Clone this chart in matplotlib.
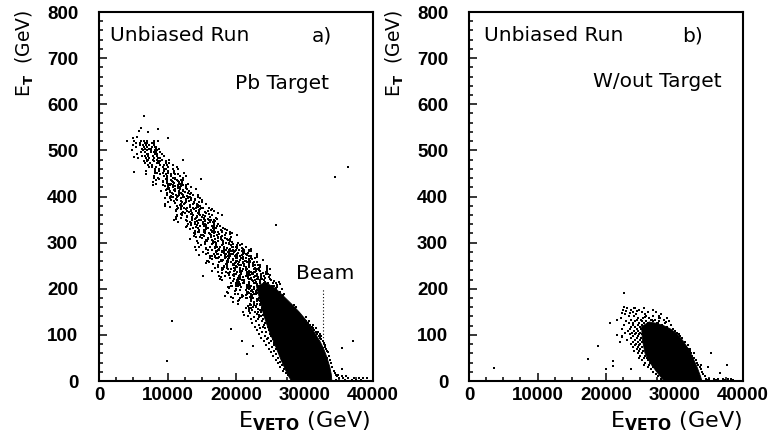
import matplotlib
matplotlib.use("Agg")
import matplotlib.pyplot as plt
from matplotlib.ticker import MultipleLocator
from matplotlib.font_manager import FontProperties

# ---------------- data ----------------
# Panel a (Pb target): rows of (E_T, [E_VETO values of the dots on that row])
band_a_rows = [
    (520, [5140, 6160, 6540, 6980, 8020, 8640]),
    (516, [5380, 6000, 6720, 6940, 7760, 8080]),
    (512, [4960, 5920, 6440, 6900, 7340, 8020]),
    (508, [5340, 6560, 6960, 7680, 8140, 8380]),
    (504, [6240, 6740, 7300, 7580, 8280, 8820]),
    (500, [4800, 6440, 7060, 7620, 8120, 8440]),
    (496, [6160, 6680, 7520, 7980, 8280, 8960]),
    (492, [5560, 7000, 7220, 8120, 8420, 9240]),
    (488, [6340, 6660, 7180, 7940, 8480, 9520]),
    (484, [5700, 6820, 7260, 7960, 8620, 8920]),
    (480, [6960, 7180, 7880, 8420, 9160, 10240]),
    (476, [6580, 7020, 8020, 8660, 8940, 9760]),
    (472, [6680, 7490, 8430, 8710, 9780, 10190]),
    (468, [7120, 7790, 8890, 9480, 9870, 10760]),
    (464, [7260, 7680, 8350, 9340, 10040, 11400]),
    (460, [8110, 8760, 9490, 9850, 10760, 11470]),
    (456, [6910, 8160, 8830, 9430, 10000, 10890]),
    (452, [8150, 8430, 9340, 10050, 11010, 12410]),
    (448, [6810, 8940, 9750, 10480, 11130, 11540]),
    (444, [8100, 9430, 9920, 10490, 11850, 12650]),
    (440, [8090, 8670, 9970, 10800, 11160, 12230]),
    (438, [9800, 11100, 8800]),
    (436, [8370, 9960, 10480, 11410, 12010, 12320]),
    (434, [9300, 10600, 11500]),
    (432, [7870, 9330, 9900, 10810, 11670, 12060]),
    (430, [9900, 10900, 12100]),
    (428, [8280, 10150, 10440, 11610, 12000, 13060]),
    (426, [10300, 11600, 9400]),
    (424, [7910, 10040, 10850, 11580, 12230, 12640]),
    (422, [9700, 11100, 12000]),
    (420, [10110, 10760, 11490, 11850, 12760, 13470]),
    (418, [10200, 11500, 12700]),
    (416, [9950, 10230, 11140, 11850, 12810, 14210]),
    (414, [10900, 12200, 9800]),
    (412, [9110, 10360, 11030, 11630, 12200, 13090]),
    (410, [10300, 11700, 12600]),
    (408, [9880, 10690, 11630, 11910, 12980, 13390]),
    (406, [10800, 12100, 13300]),
    (404, [9900, 11230, 11720, 12290, 13650, 14450]),
    (402, [11500, 12800, 10500]),
    (400, [10360, 10780, 11450, 12440, 13140, 14500]),
    (398, [10700, 12300, 13300]),
    (396, [9610, 10310, 11910, 12940, 13380, 14700]),
    (394, [11300, 12700, 14000]),
    (392, [10580, 11410, 12750, 13490, 13970, 15060]),
    (390, [12000, 13200, 10900]),
    (388, [10100, 12060, 12700, 13850, 14580, 14970]),
    (386, [11100, 12600, 13900]),
    (384, [9700, 12000, 12350, 13790, 14270, 15580]),
    (382, [11800, 13300, 14400]),
    (380, [9640, 11430, 12140, 13260, 14310, 14790]),
    (378, [11900, 13350, 14450, 10400]),
    (376, [11980, 12780, 13680, 14130, 15250, 16110]),
    (374, [12400, 13750, 14900, 11550]),
    (372, [11380, 11900, 12730, 13940, 14810, 16470]),
    (370, [11200, 13400, 14600, 16300]),
    (368, [11260, 12900, 13500, 14210, 15870, 16860]),
    (366, [13100, 14600, 15500, 12200]),
    (364, [12140, 12490, 13610, 14470, 15660, 17380]),
    (362, [12000, 13450, 14600, 16000]),
    (360, [11410, 12110, 13710, 14740, 15180, 16500]),
    (358, [12900, 14350, 15450, 11400]),
    (356, [11260, 12790, 13620, 14360, 15060, 16150]),
    (354, [12000, 14200, 15400, 17100]),
    (352, [11300, 13600, 13950, 15390, 15870, 17180]),
    (350, [13600, 14950, 16100, 12750]),
    (348, [11020, 13640, 14640, 15530, 16330, 16840]),
    (346, [12900, 14350, 15500, 16900]),
    (344, [11540, 13330, 14040, 15160, 16210, 16690]),
    (342, [14400, 15900, 16800, 13500]),
    (340, [12990, 13980, 15130, 15480, 16800, 17310]),
    (338, [14300, 15650, 16800, 13450]),
    (336, [12800, 14760, 15400, 16550, 17280, 17670]),
    (334, [14200, 15650, 16750, 12700]),
    (332, [13680, 14510, 15850, 16590, 17070, 18160]),
    (330, [13350, 15550, 16750, 18450]),
    (328, [14580, 15380, 16280, 16730, 17850, 18710]),
    (326, [14000, 15450, 16600, 18000]),
    (324, [13980, 14500, 15330, 16540, 17410, 19070]),
    (322, [15500, 17000, 17900, 14600]),
    (320, [13860, 15500, 16100, 16810, 18470, 19460]),
    (318, [14050, 16250, 17450, 19150]),
    (316, [14840, 15190, 16310, 17170, 18360, 20080]),
    (314, [15400, 16850, 17950, 13900]),
    (312, [14110, 14810, 16410, 17440, 17880, 19200]),
    (310, [15950, 17300, 18450, 15100]),
    (308, [13320, 15940, 16940, 17830, 18630, 19140]),
    (306, [16500, 18000, 18900, 15600]),
    (304, [14260, 15790, 16620, 17360, 18060, 19150]),
    (302, [15450, 16900, 18050, 19450]),
    (300, [14400, 16700, 17050, 18490, 18970, 20280]),
    (297, [15530, 16520, 18120, 18990, 19560, 20850]),
    (294, [14840, 17150, 17910, 19280, 20160, 20610]),
    (291, [14010, 16140, 16970, 18300, 19560, 20130]),
    (290, [14530, 17270, 17690, 19400, 19970, 21530]),
    (288, [15690, 16870, 18240, 18660, 20210, 20820]),
    (287, [15600, 17530, 18260, 19090, 21070, 22250]),
    (285, [15910, 16510, 17500, 18950, 19970, 21950]),
    (284, [14200, 17320, 18490, 19560, 20510, 21120]),
    (282, [17060, 18010, 19070, 19600, 20930, 21960]),
    (281, [17280, 18230, 19290, 19820, 21150, 22180]),
    (279, [15200, 17030, 18020, 18890, 19730, 21020]),
    (278, [15910, 18220, 18980, 20350, 21230, 21680]),
    (276, [16820, 17240, 18570, 19600, 21000, 23060]),
    (275, [15570, 17400, 18390, 19260, 20100, 21390]),
    (273, [14630, 17750, 18920, 19990, 20940, 21550]),
    (272, [16140, 16980, 18880, 20090, 20630, 22180]),
    (270, [16430, 18360, 19090, 19920, 21900, 23080]),
    (269, [16980, 17580, 18570, 20020, 21040, 23020]),
    (267, [16220, 17060, 18960, 20170, 20710, 22260]),
    (266, [17400, 18390, 19990, 20860, 21430, 22720]),
    (264, [16540, 18850, 19610, 20980, 21860, 22310]),
    (263, [17740, 18160, 19490, 20520, 21920, 23980]),
    (261, [15710, 17840, 18670, 20000, 21260, 21830]),
    (260, [15880, 18010, 18840, 20170, 21430, 22000]),
    (258, [16110, 18850, 19270, 20980, 21550, 23110]),
    (257, [17510, 18690, 20060, 20480, 22030, 22640]),
    (255, [15630, 18750, 19920, 20990, 21940, 22550]),
    (254, [16670, 18500, 19490, 20360, 21200, 22490]),
    (252, [18660, 19610, 20670, 21200, 22530, 23560]),
    (251, [17410, 19720, 20480, 21850, 22730, 23180]),
    (249, [18320, 18740, 20070, 21100, 22500, 24560]),
    (248, [17440, 18280, 20180, 21390, 21930, 23480]),
    (246, [16900, 18730, 19720, 20590, 21430, 22720]),
    (245, [17900, 19830, 20560, 21390, 23370, 24550]),
    (243, [18090, 19270, 20640, 21060, 22610, 23220]),
    (242, [18790, 19210, 20540, 21570, 22970, 25030]),
    (240, [17930, 19860, 20590, 21420, 23400, 24580]),
    (239, [16550, 19670, 20840, 21910, 22860, 23470]),
    (237, [18510, 19110, 20100, 21550, 22570, 24550]),
    (236, [17380, 20120, 20540, 22250, 22820, 24380]),
    (234, [17920, 18760, 20660, 21870, 22410, 23960]),
    (233, [19780, 20730, 21790, 22320, 23650, 24680]),
    (231, [19030, 20020, 21620, 22490, 23060, 24350]),
    (230, [18980, 19580, 20570, 22020, 23040, 25020]),
    (228, [18340, 20650, 21410, 22780, 23660, 24110]),
    (227, [17530, 19660, 20490, 21820, 23080, 23650]),
    (225, [17810, 20550, 20970, 22680, 23250, 24810]),
    (224, [19160, 20340, 21710, 22130, 23680, 24290]),
    (222, [17610, 19740, 20570, 21900, 23160, 23730]),
    (221, [19650, 20640, 22240, 23110, 23680, 24970]),
    (219, [20260, 21210, 22270, 22800, 24130, 25160]),
    (218, [17980, 20110, 20940, 22270, 23530, 24100]),
    (216, [19510, 20110, 21100, 22550, 23570, 25550]),
    (215, [20090, 20510, 21840, 22870, 24270, 26330]),
    (213, [19230, 21160, 21890, 22720, 24700, 25880]),
    (212, [20050, 21040, 22640, 23510, 24080, 25370]),
    (210, [20220, 20640, 21970, 23000, 24400, 26460]),
    (209, [19980, 20580, 21570, 23020, 24040, 26020]),
    (207, [19220, 20060, 21960, 23170, 23710, 25260]),
    (206, [19440, 20280, 22180, 23390, 23930, 25480]),
    (204, [18900, 20730, 21720, 22590, 23430, 24720]),
    (203, [18930, 21670, 22090, 23800, 24370, 25930]),
    (201, [18910, 21650, 22070, 23780, 24350, 25910]),
    (200, [20000, 21930, 22660, 23490, 25470, 26650]),
    (198, [20530, 21520, 23120, 23990, 24560, 25850]),
    (197, [19960, 22270, 23030, 24400, 25280, 25730]),
    (195, [19840, 22150, 22910, 24280, 25160, 25610]),
    (194, [21580, 22530, 23590, 24120, 25450, 26480]),
    (192, [18630, 21750, 22920, 23990, 24940, 25550]),
    (191, [18800, 21920, 23090, 24160, 25110, 25720]),
    (189, [20330, 22260, 22990, 23820, 25800, 26980]),
    (188, [19820, 21650, 22640, 23510, 24350, 25640]),
    (186, [20810, 21410, 22400, 23850, 24870, 26850]),
    (185, [20960, 22140, 23510, 23930, 25480, 26090]),
    (183, [20890, 22070, 23440, 23860, 25410, 26020]),
    (182, [19200, 22320, 23490, 24560, 25510, 26120]),
    (180, [19510, 21640, 22470, 23800, 25060, 25630]),
    (179, [20640, 21480, 23380, 24590, 25130, 26680]),
    (177, [22160, 23110, 24170, 24700, 26030, 27060]),
    (176, [20370, 22200, 23190, 24060, 24900, 26190]),
    (174, [20300, 22130, 23120, 23990, 24830, 26120]),
    (173, [20280, 23020, 23440, 25150, 25720, 27280]),
    (171, [19530, 22650, 23820, 24890, 25840, 26450]),
    (170, [22680, 23630, 24690, 25220, 26550, 27580]),
    (168, [20310, 23050, 23470, 25180, 25750, 27310]),
    (167, [22100, 23090, 24690, 25560, 26130, 27420]),
    (165, [22220, 22640, 23970, 25000, 26400, 28460]),
    (164, [21980, 22580, 23570, 25020, 26040, 28020]),
    (162, [21790, 22970, 24340, 24760, 26310, 26920]),
    (161, [22540, 22960, 24290, 25320, 26720, 28780]),
    (159, [21420, 22260, 24160, 25370, 25910, 27460]),
    (158, [21900, 23830, 24560, 25390, 27370, 28550]),
    (156, [23160, 24110, 25170, 25700, 27030, 28060]),
    (155, [22310, 23490, 24860, 25280, 26830, 27440]),
    (153, [21930, 23860, 24590, 25420, 27400, 28580]),
    (152, [21960, 24270, 25030, 26400, 27280, 27730]),
    (150, [22730, 23720, 25320, 26190, 26760, 28050]),
    (149, [21080, 23210, 24040, 25370, 26630, 27200]),
    (147, [22040, 24350, 25110, 26480, 27360, 27810]),
    (146, [23050, 24040, 25640, 26510, 27080, 28370]),
    (144, [21210, 23340, 24170, 25500, 26760, 27330]),
    (143, [23930, 24880, 25940, 26470, 27800, 28830]),
    (141, [21800, 23630, 24620, 25490, 26330, 28620]),
    (138, [22600, 23300, 29600, 30150]),
    (134, [22140, 23180, 23930, 29820]),
    (130, [22930, 23740, 30260, 30690]),
    (126, [22380, 24260, 30470]),
    (122, [23410, 24070, 30730, 31210]),
    (118, [22760, 23980, 24610, 31060]),
    (114, [23560, 24300, 31290, 31720]),
    (110, [23050, 24840, 31410]),
    (106, [23820, 24430, 31640, 32030]),
    (102, [23370, 24960, 25440, 31880]),
    (98, [24180, 25070, 32090, 32460]),
    (94, [23720, 24690, 32250]),
    (90, [24510, 25380, 32470]),
    (86, [24060, 25130, 25860, 32690]),
    (82, [24870, 25620, 32780]),
    (78, [24420, 25550, 26130, 32930]),
    (74, [25240, 26020, 33040]),
    (70, [24760, 25890, 33190]),
    (66, [25570, 26380, 33310]),
    (62, [25130, 26240, 33420]),
    (58, [25860, 26690]),
    (54, [25420, 26510, 33580]),
    (50, [26180, 26930]),
    (46, [25790, 26770, 33720]),
    (42, [26420, 27160]),
    (38, [26090, 27040, 33860]),
    (34, [26730, 27380]),
    (30, [26480, 27290, 34030]),
    (26, [27040, 27610]),
    (22, [26870, 27530, 34240]),
    (18, [27320, 27940, 34460]),
    (14, [27610, 28120, 34580, 34910]),
    (10, [27850, 34770, 35430, 36090]),
    (6, [28140, 35090, 35660, 36420, 37180, 37940, 38610, 39070]),
    (2, [34560, 35980, 36870, 37560, 38290]),
]
outliers_a_x = [34460, 36300, 25800, 15130, 18350, 10610, 9880, 19330, 20830, 21560,
                22530, 37030, 35520, 35430, 33240, 32270, 12300, 14900, 10120, 6620,
                8660, 6090, 5890, 4140, 4920, 5500, 7110, 5110, 5110, 17900]
outliers_a_y = [443, 465, 338, 228, 184, 131, 43, 112, 87, 58,
                76, 87, 72, 27, 50, 102, 479, 439, 527, 575,
                546, 549, 542, 521, 526, 528, 539, 486, 454, 360]
# outline of the saturated (solid black) core, panel a
core_a_x = [23000, 23500, 24100, 24800, 25700, 26600, 27500, 28100, 34000, 33900,
            33700, 33300, 32900, 32300, 31600, 30900, 30100, 29200, 28100, 27000,
            25800, 24300]
core_a_y = [205, 175, 140, 110, 78, 45, 15, 0, 0, 15,
            30, 50, 66, 85, 102, 118, 134, 150, 167, 183,
            200, 214]
beam_x = 32750
beam_y = [0, 200]

# Panel b (without target)
band_b_rows = [
    (158, [23100, 24300, 25600]),
    (153, [22500, 23700, 24800, 26900]),
    (149, [23900, 25200, 26100, 27300]),
    (145, [22800, 24400, 25700, 28100]),
    (141, [23400, 24100, 25900, 26800, 27700]),
    (137, [22200, 24700, 25400, 26300, 27900, 28900]),
    (133, [23600, 24500, 25100, 26600, 27200, 28400]),
    (129, [22900, 24200, 25300, 25800, 26900, 27800, 29200]),
    (125, [23300, 23900, 24800, 25500, 26200, 27400, 28600]),
    (121, [22600, 24000, 24600, 25200, 26500, 27100, 28200, 29500]),
    (117, [23700, 24300, 24900, 25600, 26800, 27600, 28900]),
    (113, [22400, 23500, 24500, 25100, 26300, 27300, 28300, 29800]),
    (109, [23200, 24100, 24700, 25400, 29100, 30000]),
    (105, [22800, 23800, 24400, 25000, 29400, 30300]),
    (101, [23500, 24200, 24800, 25200, 29700, 30600]),
    (97, [22300, 24000, 24600, 30000, 30800]),
    (93, [23700, 24500, 25100, 30400, 31100]),
    (89, [23100, 24300, 24900, 30700]),
    (85, [24000, 24700, 25200, 30900, 31500]),
    (81, [23600, 24400, 25000, 31200]),
    (77, [24200, 24800, 31400, 31900]),
    (73, [23900, 24600, 25200, 31700]),
    (69, [24500, 25000, 31900, 32300]),
    (64, [24100, 24800, 25400, 32200]),
    (60, [24700, 25300, 32400, 32800]),
    (55, [25000, 25700, 32600]),
    (50, [24800, 25500, 26000, 32900]),
    (45, [25300, 26100, 33100]),
    (40, [25700, 26400, 33300]),
    (35, [25500, 26300, 26800, 33500]),
    (30, [26100, 26900, 33700]),
    (25, [26600, 27300, 33800]),
    (20, [26900, 27700, 34000]),
    (15, [27300, 28000, 34200]),
    (10, [27600, 28300, 34400]),
    (5, [28000, 34600, 35100, 35700, 36400, 37100, 37800, 38300]),
    (2, [34900, 36100, 37400, 38600]),
]
outliers_b_x = [22630, 22630, 22880, 22340, 24090, 24570, 23500, 20590, 21650, 18830,
                17370, 21070, 21070, 20000, 21650, 22290, 22050, 23600, 28760, 27780,
                26670, 25740, 27640, 3700, 35280, 37620, 36650, 34940, 33830]
outliers_b_y = [190, 161, 152, 147, 158, 152, 147, 125, 132, 76,
                47, 44, 33, 27, 100, 96, 85, 27, 127, 136,
                132, 138, 126, 29, 61, 35, 17, 31, 35]
core_b_x = [25200, 25300, 25700, 26500, 27400, 28200, 28500, 34000, 33800, 33300,
            32700, 32000, 31200, 30300, 29400, 28400, 27400, 26300]
core_b_y = [118, 90, 60, 38, 20, 5, 0, 0, 10, 30,
            50, 70, 88, 103, 113, 120, 125, 128]

x_ticks = [0, 10000, 20000, 30000, 40000]
y_ticks = [0, 100, 200, 300, 400, 500, 600, 700, 800]


def flatten(rows):
    xs, ys = [], []
    for yv, xvals in rows:
        for xv in xvals:
            xs.append(xv)
            ys.append(yv)
    return xs, ys


fig = plt.figure(figsize=(7.73, 4.40), dpi=100)
W, H = 773, 440
axa = fig.add_axes([99 / W, 1 - 381 / H, 274 / W, 369 / H])
axb = fig.add_axes([469 / W, 1 - 381 / H, 274 / W, 369 / H])

tick_fp = FontProperties(family="Liberation Sans", weight="bold", size=13.5)

for ax in (axa, axb):
    ax.set_xlim(0, 40000)
    ax.set_ylim(0, 800)
    ax.set_xticks(x_ticks)
    ax.set_yticks(y_ticks)
    ax.xaxis.set_minor_locator(MultipleLocator(2500))
    ax.yaxis.set_minor_locator(MultipleLocator(20))
    ax.tick_params(which="both", direction="in", top=False, right=False, width=1.1)
    ax.tick_params(which="major", length=5.5)
    ax.tick_params(which="minor", length=3)
    ax.tick_params(axis="y", pad=15)
    ax.tick_params(axis="x", pad=4)
    for lab in ax.get_xticklabels() + ax.get_yticklabels():
        lab.set_fontproperties(tick_fp)
    for sp in ax.spines.values():
        sp.set_linewidth(1.5)
    ax.text(-0.27, 1.005, r"E$_{\mathbf{T}}$  (GeV)", rotation=90, ha="center", va="top",
            fontsize=13.5, transform=ax.transAxes)

axa.text(0.99, -0.11, r"E$_{\mathbf{VETO}}$ (GeV)", ha="right", va="center",
         fontsize=16, transform=axa.transAxes)
axb.text(0.995, -0.11, r"E$_{\mathbf{VETO}}$ (GeV)", ha="right", va="center",
         fontsize=16, transform=axb.transAxes)

ms = 2.3
# panel a
xa, ya = flatten(band_a_rows)
axa.fill(core_a_x, core_a_y, color="black", lw=0.6, zorder=2)
axa.scatter(xa, ya, s=ms, marker="s", color="black", linewidths=0, zorder=3)
axa.scatter(outliers_a_x, outliers_a_y, s=ms, marker="s", color="black", linewidths=0, zorder=3)
axa.plot([beam_x, beam_x], beam_y, color="black", lw=0.8, linestyle=(0, (1, 2)), zorder=1)
axa.text(1600, 748, "Unbiased Run", fontsize=14.5, va="center")
axa.text(31100, 748, "a)", fontsize=14.5, va="center")
axa.text(19850, 646, "Pb Target", fontsize=14.5, va="center")
axa.text(28760, 234, "Beam", fontsize=14.5, va="center")

# panel b
xb, yb = flatten(band_b_rows)
axb.fill(core_b_x, core_b_y, color="black", lw=0.6, zorder=2)
axb.scatter(xb, yb, s=ms, marker="s", color="black", linewidths=0, zorder=3)
axb.scatter(outliers_b_x, outliers_b_y, s=ms, marker="s", color="black", linewidths=0, zorder=3)
axb.text(2190, 748, "Unbiased Run", fontsize=14.5, va="center")
axb.text(31100, 748, "b)", fontsize=14.5, va="center")
axb.text(18100, 650, "W/out Target", fontsize=14.5, va="center")

fig.savefig("out.png", dpi=100)
